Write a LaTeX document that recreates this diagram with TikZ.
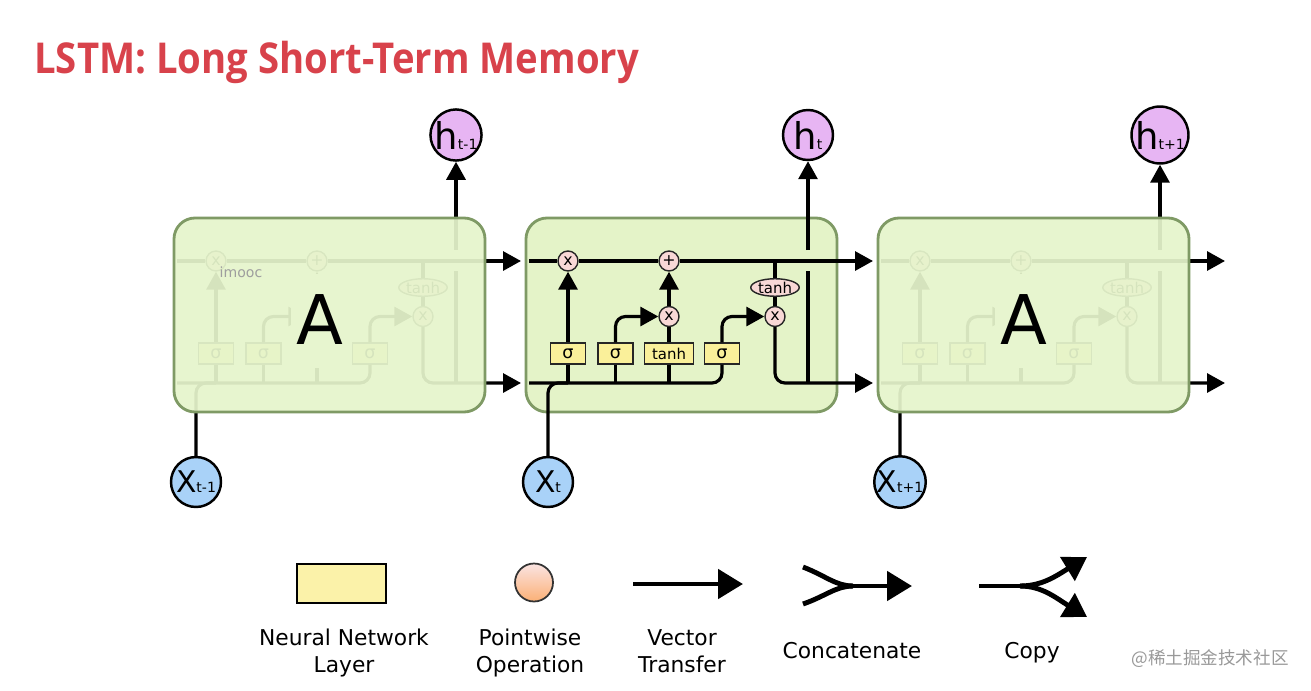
\documentclass[tikz,border=0pt]{standalone}
\usepackage{fontspec}
\setmainfont{DejaVu Sans}
\newfontfamily\titlefont[FakeStretch=0.9]{Open Sans}
\newfontfamily\cjkfont{Noto Sans CJK SC}
\usetikzlibrary{arrows.meta,shapes.geometric}

\definecolor{cellgreen}{HTML}{E4F3C8}
\definecolor{cellghost}{HTML}{E6F5CC}
\definecolor{cellline}{HTML}{7F9A65}
\definecolor{layeryellow}{HTML}{FAF09A}
\definecolor{oppink}{HTML}{F8D8D6}
\definecolor{hviolet}{HTML}{E7B5F3}
\definecolor{xblue}{HTML}{A9D2F8}
\definecolor{titlered}{HTML}{D8424B}

\tikzset{
  wire/.style={line width=1.8pt},
  flow/.style={wire, -{Triangle[length=0.36cm,width=0.38cm]}},
  bigwire/.style={line width=2.8pt},
  bigflow/.style={bigwire, -{Triangle[length=0.5cm,width=0.58cm]}},
  copyflow/.style={bigwire, -{Triangle[length=0.46cm,width=0.54cm]}},
  cellbox/.style={draw=cellline, line width=1.6pt, fill=cellgreen, rounded corners=0.42cm},
  ghostbox/.style={cellbox, fill=cellghost, fill opacity=0.93},
  layer/.style={draw=black!85, line width=0.8pt, fill=layeryellow, minimum width=0.7cm,
    minimum height=0.42cm, inner sep=0pt, font=\fontsize{10}{10}\selectfont},
  pointop/.style={circle, draw=black!85, line width=0.8pt, fill=oppink, minimum size=0.4cm,
    inner sep=0pt, font=\fontsize{9}{9}\selectfont},
  hnode/.style={circle, draw, line width=1.4pt, fill=hviolet, minimum size=1cm, inner sep=0pt},
  xnode/.style={circle, draw, line width=1.4pt, fill=xblue, minimum size=1cm, inner sep=0pt},
  bigletter/.style={font=\fontsize{39}{39}\selectfont},
  legendtext/.style={align=center, inner sep=0pt, anchor=north, font=\fontsize{12.4}{15.3}\selectfont},
}

% texts of the middle column are hidden under the A of a folded cell
\newif\ifghost
\newcommand{\keep}[1]{\ifghost\else#1\fi}

% one LSTM cell, drawn at the place of the middle one
\newcommand{\lstmcell}[3]{%
  \node[xnode] (#1x) at (548,482) {\fontsize{17}{17}\selectfont X\fontsize{8}{8}\selectfont #2};
  \node[hnode] (#1h) at (808,135) {\fontsize{21}{21}\selectfont h\fontsize{8}{8}\selectfont #3};
  \node[layer] (#1sf) at (568,353.5) {σ};
  \node[layer] (#1si) at (615.5,353.5) {σ};
  \node[layer, minimum width=0.98cm, font=\fontsize{8.5}{8.5}\selectfont] (#1st) at (669,353.5) {\keep{tanh}};
  \node[layer] (#1so) at (722,353.5) {σ};
  \node[pointop] (#1mf) at (568,261) {x};
  \node[pointop] (#1ac) at (669,261) {+};
  \node[pointop] (#1mi) at (669,316.5) {\keep{x}};
  \node[pointop] (#1mo) at (775,316.5) {x};
  \node[pointop, ellipse, minimum width=0.97cm, minimum height=0.35cm,
    font=\fontsize{8.5}{8.5}\selectfont] (#1th) at (775,287.5) {tanh};
  \coordinate (#1cin) at (529,261);
  \coordinate (#1cout) at (873,261);
  \coordinate (#1hin) at (529,383);
  \coordinate (#1hout) at (873,383);
  \coordinate (#1hup) at (808,383);
  \coordinate (#1hlow) at (808,271);
  \coordinate (#1hgap) at (808,250);
  % cell state
  \draw[wire] (#1cin) -- (#1mf);
  \draw[wire] (#1mf) -- (#1ac);
  \draw[flow] (#1ac) -- (#1cout);
  % hidden state and input
  \draw[wire, rounded corners=0.2cm] (#1hin) -| (#1so);
  \draw[wire, rounded corners=0.2cm] (#1x) |- (#1sf |- #1hin);
  \draw[wire] (#1sf) -- (#1sf |- #1hin);
  \draw[wire] (#1si) -- (#1si |- #1hin);
  \draw[wire] (#1st) -- (#1st |- #1hin);
  % gates
  \draw[flow] (#1sf) -- (#1mf);
  \draw[flow, rounded corners=0.2cm] (#1si) |- (#1mi);
  \draw[wire] (#1st) -- (#1mi);
  \draw[flow] (#1mi) -- (#1ac);
  \draw[flow, rounded corners=0.2cm] (#1so) |- (#1mo);
  \draw[wire] (#1th) -- (#1th |- #1cin);
  \draw[wire] (#1mo) -- (#1th);
  \draw[flow, rounded corners=0.2cm] (#1mo) |- (#1hout);
  \draw[wire] (#1hup) -- (#1hlow);
  \draw[flow] (#1hgap) -- (#1h);
}

\begin{document}
\begin{tikzpicture}[x=0.02cm, y=-0.02cm]
  \useasboundingbox (0,0) rectangle (1311,690);
  \fill[white] (0,0) rectangle (1311,690);

  \node[anchor=base west, inner sep=0pt, text=titlered, font=\titlefont\bfseries\fontsize{24.2}{24.2}\selectfont]
    (title) at (34,73) {LSTM: Long Short-Term Memory};

  %%%%% CELLS %%%%%
  \begin{scope}[shift={(-352,0)}]
    \ghosttrue
    \lstmcell{l}{t-1}{t-1}
    \fill[white] (643,274) rectangle (701,368);
    \draw[ghostbox] (526,218) rectangle (837,412);
    \node[bigletter] (la) at (672,320) {A};
    \node[text=black!38, font=\fontsize{8}{8}\selectfont] (lmark) at (593,272) {imooc};
  \end{scope}

  \ghostfalse
  \draw[cellbox] (526,218) rectangle (837,412);
  \lstmcell{m}{t}{t}

  \begin{scope}[shift={(352,0)}]
    \ghosttrue
    \lstmcell{r}{t+1}{t+1}
    \fill[white] (643,274) rectangle (701,368);
    \draw[ghostbox] (526,218) rectangle (837,412);
    \node[bigletter] (ra) at (672,320) {A};
  \end{scope}

  %%%%% LEGEND %%%%%
  \node[draw, line width=1.2pt, fill=layeryellow!85!white, minimum width=1.78cm, minimum height=0.78cm]
    (lg-layer) at (341.5,583.5) {};
  \node[circle, draw=black!80, line width=1pt, minimum size=0.76cm, top color=oppink!70!white,
    bottom color=orange!45!oppink] (lg-op) at (534,582.5) {};
  \coordinate (vt-a) at (633,584);
  \coordinate (vt-b) at (743,584);
  \draw[bigflow] (vt-a) -- (vt-b);

  \coordinate (cc-u) at (803,567);
  \coordinate (cc-l) at (803,604);
  \coordinate (cc-m) at (853,586);
  \coordinate (cc-e) at (912,586);
  \draw[bigwire] (cc-u) .. controls (826,576) and (836,586) .. (cc-m);
  \draw[bigwire] (cc-l) .. controls (826,596) and (836,586) .. (cc-m);
  \draw[bigflow] (cc-m) -- (cc-e);

  \coordinate (cp-s) at (979,586);
  \coordinate (cp-m) at (1020,586);
  \coordinate (cp-u) at (1087,557);
  \coordinate (cp-l) at (1087,617);
  \draw[bigwire] (cp-s) -- (cp-m);
  \draw[copyflow] (cp-m) .. controls (1042,586) and (1056,576) .. (cp-u);
  \draw[copyflow] (cp-m) .. controls (1042,586) and (1056,598) .. (cp-l);

  \node[legendtext] (lt-layer) at (344,629) {Neural Network\\Layer};
  \node[legendtext] (lt-op) at (530,629) {Pointwise\\Operation};
  \node[legendtext] (lt-vt) at (682,629) {Vector\\Transfer};
  \node[legendtext, anchor=base] (lt-cc) at (852,658) {Concatenate};
  \node[legendtext, anchor=base] (lt-cp) at (1032,658) {Copy};

  \node[text=black!40, font=\cjkfont\fontsize{10}{10}\selectfont] (mark) at (1210,659) {@稀土掘金技术社区};
\end{tikzpicture}
\end{document}
